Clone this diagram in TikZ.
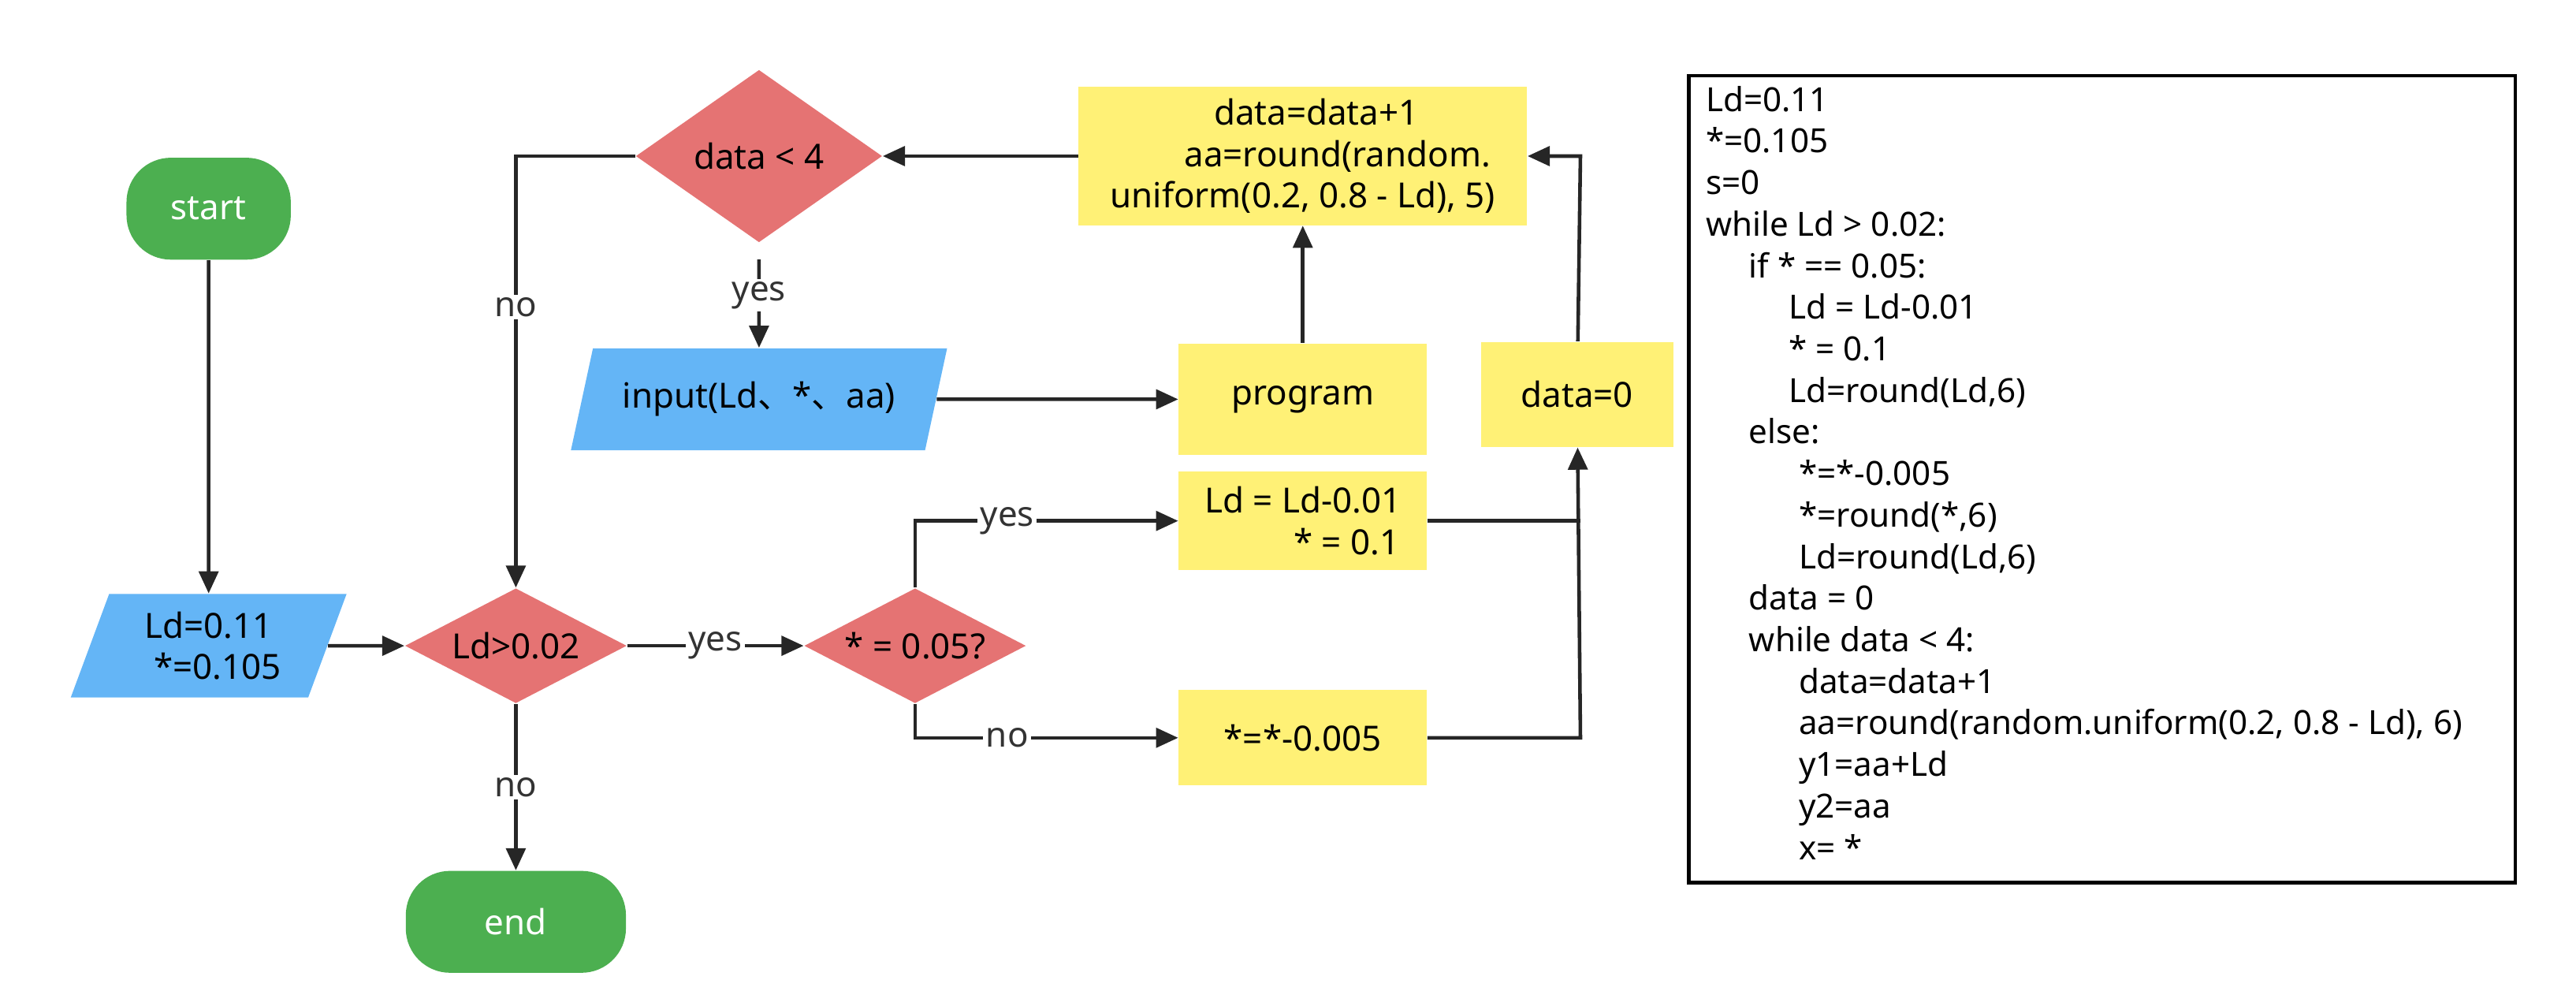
\documentclass[tikz,border=0pt]{standalone}
\usepackage{fontspec}
\setmainfont{Noto Sans}
\newfontfamily\cjk{Noto Sans CJK SC}
\usetikzlibrary{arrows.meta}
\usetikzlibrary{shapes.geometric}
\definecolor{grn}{RGB}{76,175,80}
\definecolor{rd}{RGB}{229,115,115}
\definecolor{bl}{RGB}{100,181,246}
\definecolor{yl}{RGB}{255,241,118}
\tikzset{
  term/.style={draw=none,fill=grn,text=white,rounded corners=16pt,minimum height=62*0.02084cm},
  cond/.style={diamond,draw=none,fill=rd,aspect=2,inner sep=1pt},
  io/.style={trapezium,trapezium left angle=70,trapezium right angle=110,trapezium stretches=true,draw=none,fill=bl,align=center},
  proc/.style={draw=none,fill=yl,align=center},
  arr/.style={-{Triangle[length=8pt,width=7pt]},line width=1.3pt,draw=black!85},
  lab/.style={fill=white,inner sep=1pt,text=black!80}
}
\begin{document}
\begin{tikzpicture}[x=0.02084cm,y=-0.02084cm,font=\fontsize{12.5}{15}\selectfont]
\useasboundingbox (0,0) rectangle (1568,612);
	\node[term,minimum width=100*0.02084cm] (start) at (127,127) {start};
	\node[io,minimum height=63*0.02084cm,minimum width=168*0.02084cm] (init) at (127,393) {Ld=0.11\\ \ \ *=0.105};
	\node[cond,minimum width=135*0.02084cm,minimum height=70*0.02084cm] (ld) at (314,393) {Ld>0.02};
	\node[term,minimum width=134*0.02084cm] (end) at (314,561) {end};
	\node[cond,minimum width=150*0.02084cm,minimum height=105*0.02084cm] (dt) at (462,95) {data < 4};
	\node[io,minimum height=62*0.02084cm,minimum width=229*0.02084cm] (inp) at (462,243) {input(Ld{\cjk 、}*{\cjk 、}aa)};
	\node[proc,minimum width=151*0.02084cm,minimum height=68*0.02084cm] (prog) at (793,243) {program};
	\node[proc,minimum width=273*0.02084cm,minimum height=84*0.02084cm] (inc) at (793,95) {\ \ \ data=data+1\\ \qquad aa=round(random.\\ uniform(0.2, 0.8 - Ld), 5)};
	\node[proc,minimum width=117*0.02084cm,minimum height=64*0.02084cm] (zero) at (960,240) {data=0};
	\node[proc,minimum width=151*0.02084cm,minimum height=60*0.02084cm] (dec) at (793,317) {Ld = Ld-0.01\\ \qquad\ \ * = 0.1};
	\node[proc,minimum width=151*0.02084cm,minimum height=58*0.02084cm] (sub) at (793,449) {*=*-0.005};
	\node[cond,minimum width=135*0.02084cm,minimum height=70*0.02084cm] (st) at (557,393) {* = 0.05?};
	\coordinate (j1) at (962,317);
	\coordinate (j2) at (962,449);
	\coordinate (c1) at (314,95);
	\coordinate (c2) at (557,317);
	\coordinate (c3) at (557,449);
	\coordinate (c4) at (962,95);
\draw[arr] (start) -- (init);
\draw[arr] (init) -- (ld);
\draw[arr] (ld) -- node[lab]{yes} (st);
\draw[arr] (ld) -- node[lab]{no} (end);
\draw[arr] (st.north) -- (c2) -- node[lab,pos=0.35]{yes} (dec);
\draw[arr] (st.south) -- (c3) -- node[lab,pos=0.35]{no} (sub);
\draw[line width=1.3pt,draw=black!85] (dec) -- (j1);
\draw[arr] (sub) -- (j2) -- (zero);
\draw[arr] (zero) -- (c4) -- (inc.east);
\draw[arr] (prog) -- (inc);
\draw[arr] (inc) -- (dt);
\draw[arr,shorten <=6pt] (dt) -- node[lab]{yes} (inp);
\draw[arr] (dt.west) -- (c1) -- node[lab,pos=0.35]{no} (ld);
\draw[arr] (inp) -- (prog);
	\node[draw,line width=1.3pt,anchor=north west,minimum width=503*0.02084cm,minimum height=491*0.02084cm] (code) at (1027,45) {};
	\node[anchor=north west,align=left,inner sep=0pt,font=\fontsize{12}{15}\selectfont] (txt) at (1038,52) {Ld=0.11\\ *=0.105\\ s=0\\ while Ld > 0.02:\\
	\hspace*{1.3em}if * == 0.05:\\ \hspace*{2.5em}Ld = Ld-0.01\\ \hspace*{2.5em}* = 0.1\\ \hspace*{2.5em}Ld=round(Ld,6)\\
	\hspace*{1.3em}else:\\ \hspace*{2.8em}*=*-0.005\\ \hspace*{2.8em}*=round(*,6)\\ \hspace*{2.8em}Ld=round(Ld,6)\\
	\hspace*{1.3em}data = 0\\ \hspace*{1.3em}while data < 4:\\ \hspace*{2.8em}data=data+1\\
	\hspace*{2.8em}aa=round(random.uniform(0.2, 0.8 - Ld), 6)\\ \hspace*{2.8em}y1=aa+Ld\\ \hspace*{2.8em}y2=aa\\ \hspace*{2.8em}x= *};
\end{tikzpicture}
\end{document}
